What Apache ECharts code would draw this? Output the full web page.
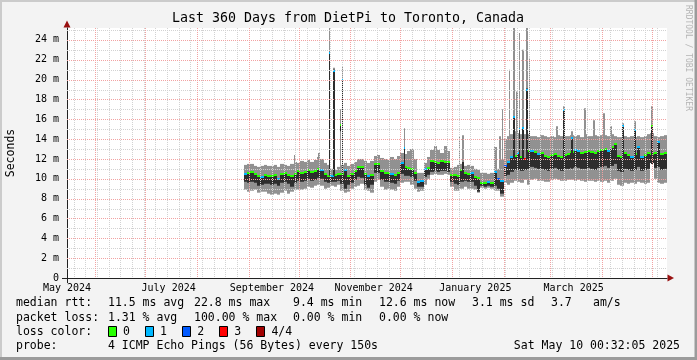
<!DOCTYPE html>
<html><head><meta charset="utf-8">
<script src="https://cdn.jsdelivr.net/npm/echarts@6/dist/echarts.min.js"></script>
<style>html,body{margin:0;padding:0;background:#f3f3f3}#c{width:697px;height:360px}</style>
</head><body><div id="c"></div>
<script>
// ---------- data ----------
const titleText = 'Last 360 Days from DietPi to Toronto, Canada';
const yTitle = 'Seconds';
const watermark = 'RRDTOOL / TOBI OETIKER';
const axisStart = '2024-05-15T00:32:05Z';
const axisEnd = '2025-05-10T00:32:05Z';
const xLabelDates = ['2024-05-15T00:32:05Z','2024-07-15T00:00Z','2024-09-15T00:00Z','2024-11-15T00:00Z','2025-01-15T00:00Z','2025-03-15T00:00Z'];
const xLabelTexts = ['May 2024','July 2024','September 2024','November 2024','January 2025','March 2025'];
const monthStarts = ['2024-06-01','2024-07-01','2024-08-01','2024-09-01','2024-10-01','2024-11-01','2024-12-01','2025-01-01','2025-02-01','2025-03-01','2025-04-01','2025-05-01'];
const firstWeekLine = '2024-05-19';
const yLabelValues = [0,2,4,6,8,10,12,14,16,18,20,22,24];
const yMinorValues = [1,3,5,7,9,11,13,15,17,19,21,23,25];
const yMax = 25.2;

// 2-day bins starting at binStart
const binStart = '2024-08-29T00:32:05Z';
const binDays = 2;
const lo  = [8.9,8.7,8.8,8.9,8.6,8.7,8.7,8.5,8.4,8.5,8.4,8.6,8.8,8.5,8.7,8.9,8.9,8.9,9.0,9.2,9.1,9.3,9.4,9.3,9.0,9.1,9.3,9.2,9.4,8.8,
             8.6,8.7,9.0,9.2,9.3,9.5,8.9,8.8,8.6,9.7,9.9,9.2,8.9,9.0,8.9,8.8,9.2,9.6,9.7,9.7,9.4,9.0,8.7,8.8,9.4,10.0,10.4,10.5,10.4,10.4,
             10.5,10.4,9.2,8.8,8.8,9.0,9.2,9.0,9.0,8.9,8.6,9.1,9.0,9.1,9.0,8.8,8.8,8.2,9.6,9.4,9.6,9.8,9.7,9.6,9.9,9.4,9.9,10.0,9.8,9.8,
             9.7,9.7,9.9,10.0,9.9,9.8,9.8,9.9,9.9,9.8,9.9,9.8,9.7,9.8,9.8,9.7,9.8,9.7,9.8,9.6,9.8,10.0,9.4,9.3,9.6,9.5,9.6,9.5,9.7,9.6,
             9.5,9.6,11.6,10.0,9.6,9.5,9.6];
const dlo = [9.7,9.6,9.7,9.6,9.3,9.4,9.5,9.5,9.4,9.5,9.3,9.6,9.7,9.5,9.2,9.6,9.8,9.7,9.8,10.0,9.8,9.9,10.1,10.0,9.7,9.6,9.7,9.7,9.8,9.5,
             9.0,9.4,9.6,9.9,10.2,10.1,9.4,9.1,9.4,10.6,10.6,9.9,9.7,9.7,9.6,9.5,9.8,10.5,10.3,10.3,10.2,9.8,9.2,9.2,10.2,10.4,10.7,10.8,10.7,10.8,
             10.8,10.7,9.7,9.5,9.4,9.7,9.8,9.7,9.7,9.3,8.7,9.3,9.2,9.3,9.2,9.3,9.0,8.5,10.3,10.4,10.7,10.9,10.9,10.8,10.9,11.0,11.2,11.1,11.0,11.0,
             10.9,10.8,11.0,11.1,10.9,10.8,11.0,11.0,11.1,11.2,11.1,11.0,11.0,11.1,11.0,10.9,11.1,11.2,11.3,11.1,11.3,11.5,10.8,10.7,11.0,10.9,10.8,10.9,11.2,10.8,
             10.9,11.0,11.6,11.1,11.2,10.9,11.0];
const med = [10.5,10.6,10.7,10.5,10.3,10.2,10.4,10.3,10.3,10.4,10.0,10.5,10.6,10.4,10.3,10.5,10.8,10.6,10.7,10.9,10.7,10.8,11.0,10.9,10.5,10.3,10.3,10.4,10.5,10.5,
             10.9,10.3,10.5,10.8,11.2,11.2,10.5,10.3,10.4,11.5,11.5,10.8,10.6,10.6,10.5,10.4,10.6,11.6,11.2,11.1,11.0,10.6,9.7,9.8,11.0,11.1,11.8,11.7,11.6,11.8,
             11.7,11.7,10.4,10.4,10.3,10.9,10.6,10.5,10.6,10.2,10.1,9.6,9.6,9.7,9.6,10.7,10.0,9.8,11.3,11.7,12.2,12.3,12.6,12.2,12.0,12.8,12.8,12.7,12.5,12.6,
             12.3,12.2,12.4,12.5,12.3,12.2,12.4,12.5,12.7,12.9,12.8,12.6,12.7,12.8,12.7,12.6,12.8,12.9,13.0,12.8,13.2,13.5,12.3,12.2,12.6,12.4,12.2,12.5,13.2,12.2,
             12.4,12.6,12.5,12.6,13.7,12.5,12.6];
const hi  = [11.4,11.5,11.5,11.3,11.2,11.3,11.4,11.3,11.3,11.4,11.2,11.5,11.4,11.3,11.5,11.7,11.6,11.8,11.7,11.9,11.7,11.9,12.2,12.0,11.6,11.4,11.0,10.9,11.2,11.4,
             11.6,11.3,11.5,11.7,12.0,12.0,11.8,11.6,11.8,12.3,12.4,12.1,12.0,11.9,12.2,12.0,12.3,12.6,12.5,12.8,13.0,12.0,10.6,10.6,11.6,12.2,12.9,13.3,12.9,12.6,
             13.3,12.8,11.1,11.2,11.4,11.5,11.3,11.4,11.3,11.0,10.9,10.6,10.6,10.5,10.6,13.2,11.0,12.0,14.0,14.3,14.5,14.8,14.6,14.5,14.5,14.5,14.3,14.3,14.2,14.4,
             14.3,14.2,14.3,14.2,14.4,14.3,14.3,14.3,14.4,14.3,14.4,14.2,14.5,14.3,14.3,14.4,14.3,14.4,14.4,14.3,14.5,14.3,14.2,14.2,14.3,14.2,14.3,14.2,14.3,14.2,
             14.3,14.5,14.6,14.3,14.2,14.3,14.4];
const loss = [1,0,0,0,0,1,0,0,0,0,1,0,0,0,0,0,0,0,0,0,0,0,0,1,0,0,1,0,0,0,
              1,0,0,0,0,0,0,1,0,0,0,0,0,0,1,0,0,1,0,0,0,0,1,1,1,0,0,0,0,0,
              0,0,0,0,0,0,0,0,1,0,0,0,0,1,0,1,2,1,2,1,1,0,1,0,3,0,1,0,1,0,
              0,0,0,0,0,0,0,0,0,1,1,0,0,0,0,0,0,0,0,1,0,0,0,0,0,0,1,0,1,1,
              0,0,0,0,1,0,0];

// isolated narrow spikes
const spikeTimes = ['2024-09-28T14:00Z','2024-10-13T05:00Z','2024-10-19T12:00Z','2024-10-22T05:00Z','2024-10-26T03:00Z','2024-10-27T10:00Z',
  '2024-12-03T14:00Z','2025-01-05T14:00Z','2025-01-07T14:00Z','2025-01-29T19:00Z','2025-01-31T07:00Z','2025-02-04T12:00Z','2025-02-07T05:00Z',
  '2025-02-09T00:00Z','2025-02-10T12:00Z','2025-02-12T14:00Z','2025-02-15T00:00Z','2025-02-16T12:00Z','2025-03-05T00:00Z','2025-03-09T05:00Z',
  '2025-03-14T00:00Z','2025-03-21T19:00Z','2025-03-27T05:00Z','2025-04-02T05:00Z','2025-04-06T10:00Z','2025-04-13T14:00Z','2025-04-20T19:00Z','2025-05-01T00:00Z'];
const spikeGrayLo = [11.4,11.9,10.5,10.5,11.0,10.5,11.6,11.0,11.0,11.0,11.0,13.0,13.0,13.0,13.0,13.0,13.0,13.0,13.0,12.0,12.0,13.0,13.0,13.0,13.0,12.0,12.0,12.0];
const spikeGrayHi = [12.4,12.6,25.2,21.2,17.0,21.3,15.1,14.3,14.4,14.3,17.0,21.0,25.2,18.8,24.7,23.0,25.2,22.2,15.3,17.3,14.8,17.1,15.9,16.6,15.3,15.6,15.8,17.3];
const spikeDarkLo = [null,null,10.3,10.3,14.8,10.4,11.0,null,10.5,null,null,null,11.5,null,11.5,11.5,11.2,12.0,null,11.0,11.0,null,null,null,null,11.0,11.0,11.5];
const spikeDarkHi = [null,null,22.8,21.0,15.5,20.1,13.2,null,11.7,null,null,null,16.3,null,15.1,15.2,19.1,15.1,null,17.0,14.2,null,null,null,null,15.4,15.0,15.4];
const spikeLoss   = [null,null,1,1,0,1,1,null,null,null,null,null,1,null,1,1,1,0,null,1,1,null,null,null,null,1,1,0];

const lossColors = ['#26ff00','#00b8ff','#0059ff','#ff0000','#a10000'];
const lossLabels = ['0','1','2','3','4/4'];
const legendRows = [
  ['median rtt:', ['11.5 ms avg','22.8 ms max','9.4 ms min','12.6 ms now','3.1 ms sd','3.7','am/s']],
  ['packet loss:', ['1.31 % avg','100.00 % max','0.00 % min','0.00 % now']],
  ['loss color:', []],
  ['probe:', ['4 ICMP Echo Pings (56 Bytes) every 150s']]
];
const stamp = 'Sat May 10 00:32:05 2025';

// ---------- styling / layout ----------
const FONT = 'DejaVu Sans Mono';
const LIGHT = '#919191', DARK = '#2d2d2d';
const MAJOR = '#f2a2a2', MINOR = '#d2d2d2';
const DAY = 86400000;
const GL = 67, GT = 28, GR = 30, GB = 82;
const rowX = [16,108,194,293,379,472,551,593];
const rowY = [303,318,332,346];

const tStart = Date.parse(binStart);
const tAxis0 = Date.parse(axisStart);
const tEnd = Date.parse(axisEnd);
const bandData = med.map((m,i)=>[tStart+i*binDays*DAY, tStart+(i+1)*binDays*DAY, lo[i], dlo[i], m, hi[i], loss[i]]);
const spikeData = spikeTimes.map((s,i)=>{const t=Date.parse(s);
  return [t-0.5*DAY, t+0.5*DAY, spikeGrayLo[i], spikeGrayHi[i],
    spikeDarkLo[i]==null?-1:spikeDarkLo[i], spikeDarkHi[i]==null?-1:spikeDarkHi[i], spikeLoss[i]==null?-1:spikeLoss[i]];});

// grid line items: [x, y, orientation(0 vertical / 1 horizontal), major]
const gridData=[];
for(let t=Date.parse(firstWeekLine); t<tEnd; t+=7*DAY) gridData.push([t,0,0,0]);
yMinorValues.forEach(v=>gridData.push([tAxis0,v,1,0]));
monthStarts.forEach(s=>gridData.push([Date.parse(s),0,0,1]));
yLabelValues.filter(v=>v>0).forEach(v=>gridData.push([tAxis0,v,1,1]));

function colRect(api,t0,t1,v0,v1,fill){
  const a=api.coord([t0,v0]), b=api.coord([t1,v1]);
  const x0=Math.round(a[0]); const w=Math.max(1,Math.round(b[0])-x0);
  return {type:'rect',shape:{x:x0,y:b[1],width:w,height:a[1]-b[1]},style:{fill}};
}
function renderBand(params,api){
  const t0=api.value(0),t1=api.value(1);
  const m=api.value(4);
  const mp=api.coord([t0,m]);
  const c=[colRect(api,t0,t1,api.value(2),api.value(5),LIGHT), colRect(api,t0,t1,api.value(3),m,DARK)];
  const mk=colRect(api,t0,t1,m,m,lossColors[api.value(6)]);
  mk.shape.y=Math.round(mp[1])-1; mk.shape.height=2;
  c.push(mk);
  return {type:'group',children:c};
}
function renderSpike(params,api){
  const t0=api.value(0),t1=api.value(1);
  const c=[colRect(api,t0,t1,api.value(2),api.value(3),LIGHT)];
  const dl=api.value(4), dh=api.value(5), ls=api.value(6);
  if(dh>=0){c.push(colRect(api,t0,t1,dl,dh,DARK));
    if(ls>=0){const mk=colRect(api,t0,t1,dh,dh,lossColors[ls]); const p=api.coord([t0,dh]); mk.shape.y=Math.round(p[1]); mk.shape.height=2; c.push(mk);} }
  return {type:'group',children:c};
}
function renderGrid(params,api){
  const cs=params.coordSys;
  const p=api.coord([api.value(0),api.value(1)]);
  const col=api.value(3)?MAJOR:MINOR;
  let shape;
  if(api.value(2)===0){const x=Math.round(p[0])+0.5; shape={x1:x,y1:cs.y,x2:x,y2:cs.y+cs.height};}
  else {const y=Math.round(p[1])+0.5; shape={x1:cs.x,y1:y,x2:cs.x+cs.width,y2:y};}
  return {type:'line',shape,style:{stroke:col,lineWidth:1,lineDash:[1,1]}};
}

const xLabelTimes = xLabelDates.map(s=>Date.parse(s));

// graphics
const g=[];
g.push({type:'text',x:348,y:19,style:{text:titleText,font:'13.3px "'+FONT+'"',fill:'#000',textAlign:'center',textVerticalAlign:'middle'}});
g.push({type:'text',x:11,y:153,rotation:Math.PI/2,style:{text:yTitle,font:'11.5px "'+FONT+'"',fill:'#000',textAlign:'center',textVerticalAlign:'middle'}});
g.push({type:'text',x:688,y:5,rotation:-Math.PI/2,style:{text:watermark,font:'8px "'+FONT+'"',fill:'#b4b4b4',textAlign:'left',textVerticalAlign:'middle'}});
legendRows.forEach((r,i)=>{
  g.push({type:'text',x:rowX[0],y:rowY[i],style:{text:r[0],font:'11.5px "'+FONT+'"',fill:'#000',textVerticalAlign:'middle'}});
  r[1].forEach((s,j)=>g.push({type:'text',x:rowX[j+1],y:rowY[i],style:{text:s,font:'11.5px "'+FONT+'"',fill:'#000',textVerticalAlign:'middle'}}));
});
lossColors.forEach((col,i)=>{
  const bx=108+i*37.1;
  g.push({type:'rect',shape:{x:Math.round(bx)+0.5,y:rowY[2]-5.5,width:8,height:10},style:{fill:col,stroke:'#000',lineWidth:1}});
  g.push({type:'text',x:bx+15,y:rowY[2],style:{text:lossLabels[i],font:'11.5px "'+FONT+'"',fill:'#000',textVerticalAlign:'middle'}});
});
g.push({type:'text',x:680,y:rowY[3],style:{text:stamp,font:'11.5px "'+FONT+'"',fill:'#000',textAlign:'right',textVerticalAlign:'middle'}});
g.push({type:'polygon',shape:{points:[[63.5,27.5],[70.5,27.5],[67,20.5]]},style:{fill:'#991111'}});
g.push({type:'polygon',shape:{points:[[667.5,274.5],[667.5,281.5],[674,278]]},style:{fill:'#991111'}});
g.push({type:'line',shape:{x1:62,y1:278.5,x2:67,y2:278.5},style:{stroke:'#222',lineWidth:1}});
g.push({type:'line',shape:{x1:67.5,y1:278,x2:67.5,y2:283},style:{stroke:'#222',lineWidth:1}});
g.push({type:'polyline',shape:{points:[[1,359],[1,1],[696,1]]},style:{stroke:'#cbcbcb',lineWidth:2,fill:null}});
g.push({type:'polyline',shape:{points:[[0,358.5],[696,358.5],[696,0]]},style:{stroke:'#9b9b9b',lineWidth:3,fill:null}});

const chart = echarts.init(document.getElementById('c'),null,{renderer:'canvas'});
chart.setOption({
  animation:false,
  backgroundColor:'#f3f3f3',
  textStyle:{fontFamily:FONT},
  grid:{left:GL,right:GR,top:GT,bottom:GB,show:true,backgroundColor:'#ffffff',borderWidth:0},
  xAxis:{type:'value',min:tAxis0,max:tEnd,
    axisLine:{show:true,onZero:false,lineStyle:{color:'#222',width:1}},axisTick:{show:false},splitLine:{show:false},
    axisLabel:{customValues:xLabelTimes,formatter:v=>{let best=0;xLabelTimes.forEach((t,i)=>{if(Math.abs(t-v)<Math.abs(xLabelTimes[best]-v))best=i;});return xLabelTexts[best];},
      margin:5,fontSize:10,color:'#000',fontFamily:FONT,hideOverlap:false,showMinLabel:true,showMaxLabel:true}},
  yAxis:{type:'value',min:0,max:yMax,
    axisLine:{show:true,onZero:false,lineStyle:{color:'#222',width:1}},axisTick:{show:false},splitLine:{show:false},
    axisLabel:{customValues:yLabelValues,formatter:v=>v===0?'0':v+' m',margin:8,fontSize:10,color:'#000',fontFamily:FONT}},
  series:[
    {type:'custom',renderItem:renderBand,data:bandData,encode:{x:[0,1],y:[2,5]},clip:true,z:2,silent:true},
    {type:'custom',renderItem:renderSpike,data:spikeData,encode:{x:[0,1],y:[2,3]},clip:true,z:3,silent:true},
    {type:'custom',renderItem:renderGrid,data:gridData,encode:{x:0,y:1},clip:false,z:5,silent:true}
  ],
  graphic:g
});
</script></body></html>
